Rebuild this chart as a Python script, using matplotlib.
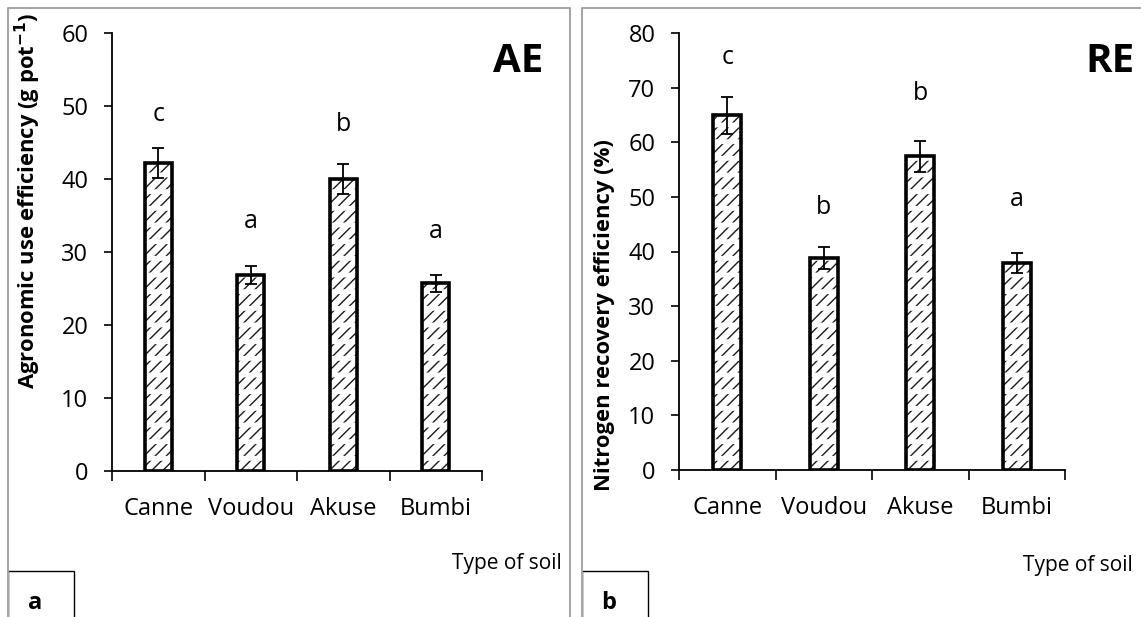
import matplotlib.pyplot as plt
from matplotlib.patches import Rectangle
from matplotlib.lines import Line2D
import numpy as np

plt.rcParams['font.family'] = ['Open Sans', 'DejaVu Sans']

soils = ['Canne', 'Voudou', 'Akuse', 'Bumbi']

# agronomic use efficiency (g pot-1)
ae_mean = [42.2, 26.8, 40.0, 25.7]
ae_err = [2.0, 1.25, 2.0, 1.2]
ae_letters = ['c', 'a', 'b', 'a']
ae_letter_y = [48.9, 34.2, 47.5, 32.8]

# nitrogen recovery efficiency (%)
re_mean = [64.9, 38.8, 57.4, 37.9]
re_err = [3.3, 2.0, 2.8, 1.9]
re_letters = ['c', 'b', 'b', 'a']
re_letter_y = [75.6, 48.1, 69.0, 49.6]

W, H = 1141, 617
fig = plt.figure(figsize=(W / 100, H / 100), dpi=100)


def px(x0, y0, x1, y1):
    # pixel box -> figure fraction rect
    return [x0 / W, 1 - y1 / H, (x1 - x0) / W, (y1 - y0) / H]


def panel(ax, mean, err, letters, letter_y, ymax, ylabel):
    x = np.arange(len(soils))
    w = 0.29
    with plt.rc_context({'hatch.linewidth': 1.0}):
        ax.bar(x, mean, w, color='white', edgecolor='0.1', hatch='///', linewidth=0, zorder=1)
    # white stripes break the diagonals into short dashes
    with plt.rc_context({'hatch.linewidth': 3.5}):
        ax.bar(x, mean, w, fill=False, edgecolor='white', hatch='-', linewidth=0, zorder=2)
    ax.bar(x, mean, w, fill=False, edgecolor='black', linewidth=2.6, zorder=3)
    ax.errorbar(x, mean, yerr=err, fmt='none', ecolor='black', elinewidth=1.3,
                capsize=4.5, capthick=1.3, zorder=4)
    for xi, l, ly in zip(x, letters, letter_y):
        ax.text(xi, ly, l, ha='center', va='center', fontsize=18)

    ax.set_xlim(-0.5, 3.5)
    ax.set_ylim(0, ymax)
    ax.set_yticks(np.arange(0, ymax + 1, 10))
    ax.tick_params(axis='y', labelsize=17, length=6, width=1.2, pad=11)
    ax.set_xticks(np.arange(-0.5, 4, 1))
    ax.set_xticklabels([])
    ax.tick_params(axis='x', which='major', length=7, width=1.2)
    ax.set_xticks(x, minor=True)
    ax.set_xticklabels(soils, minor=True)
    ax.tick_params(axis='x', which='minor', length=0, labelsize=17, pad=19)
    for s in ['top', 'right']:
        ax.spines[s].set_visible(False)
    for s in ['left', 'bottom']:
        ax.spines[s].set_linewidth(1.3)
    ax.set_ylabel(ylabel, fontsize=15.8, fontweight='bold')


ax1 = fig.add_axes(px(112, 33, 482, 471))
panel(ax1, ae_mean, ae_err, ae_letters, ae_letter_y, 60,
      'Agronomic use efficiency (g pot$^{\\mathbf{-1}}$)')
ax1.yaxis.set_label_coords(-0.186, 0.616)

ax2 = fig.add_axes(px(679, 33, 1065, 470))
panel(ax2, re_mean, re_err, re_letters, re_letter_y, 80,
      'Nitrogen recovery efficiency (%)')
ax2.yaxis.set_label_coords(-0.166, 0.355)

# panel frames
grey = '#a6a6a6'
fig.add_artist(Line2D([8 / W, 8 / W, 570 / W, 570 / W], [0, 1 - 8 / H, 1 - 8 / H, 0],
                      color=grey, lw=1.5))
fig.add_artist(Line2D([582 / W, 582 / W, 1.0], [0, 1 - 8 / H, 1 - 8 / H],
                      color=grey, lw=1.5))

# panel tags and titles
for x0, tag in [(8, 'a'), (582, 'b')]:
    fig.add_artist(Rectangle((x0 / W, -0.01), 66 / W, 1 - 571 / H + 0.01,
                             transform=fig.transFigure, fill=False,
                             edgecolor='black', lw=1))
    fig.text((x0 + 27) / W, 1 - 603 / H, tag, ha='center', va='center',
             fontsize=17, fontweight='bold')

fig.text(518 / W, 1 - 62 / H, 'AE', ha='center', va='center', fontsize=29, fontweight='bold')
fig.text(1110 / W, 1 - 62 / H, 'RE', ha='center', va='center', fontsize=29, fontweight='bold')
fig.text(562 / W, 1 - 563 / H, 'Type of soil', ha='right', va='center', fontsize=15)
fig.text(1133 / W, 1 - 565 / H, 'Type of soil', ha='right', va='center', fontsize=15)

fig.savefig('out.png', dpi=100)
